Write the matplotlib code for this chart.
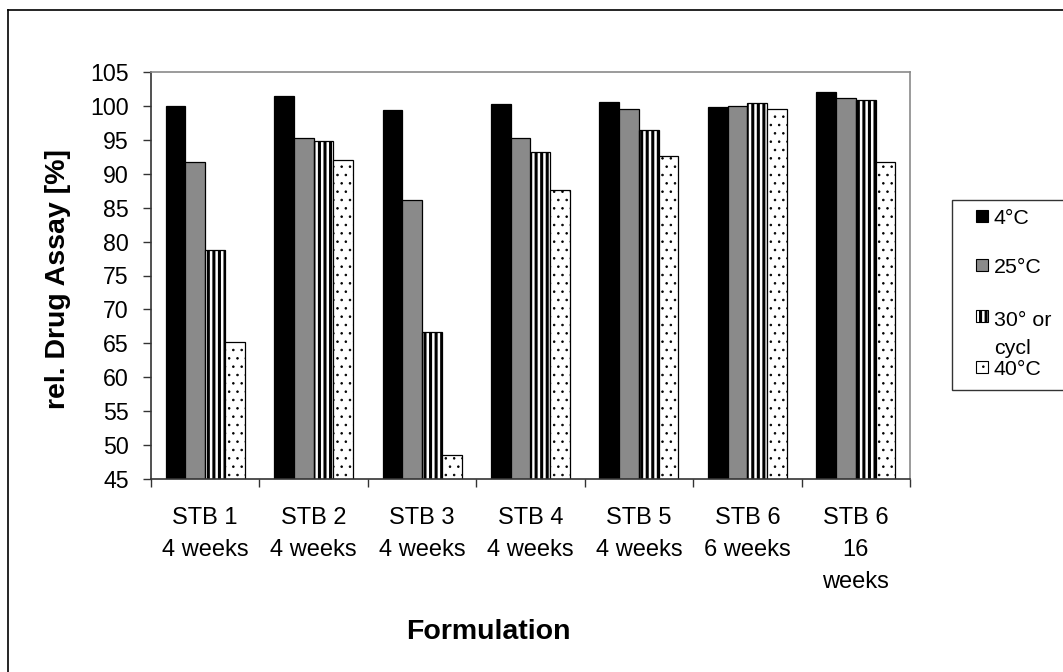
import matplotlib
matplotlib.use("Agg")
import matplotlib.pyplot as plt
from matplotlib.patches import Rectangle
from matplotlib.lines import Line2D
import numpy as np

# ---- data -------------------------------------------------------------
categories = ["STB 1\n4 weeks", "STB 2\n4 weeks", "STB 3\n4 weeks", "STB 4\n4 weeks",
              "STB 5\n4 weeks", "STB 6\n6 weeks", "STB 6\n16\nweeks"]
series_names = ["4°C", "25°C", "30° or\ncycl", "40°C"]
assay_4c = [100.0, 101.5, 99.4, 100.3, 100.6, 99.9, 102.0]
assay_25c = [91.7, 95.2, 86.1, 95.2, 99.6, 100.0, 101.1]
assay_30c = [78.7, 94.9, 66.6, 93.2, 96.4, 100.5, 100.8]
assay_40c = [65.2, 92.0, 48.6, 87.6, 92.6, 99.6, 91.7]
y_ticks = [45, 50, 55, 60, 65, 70, 75, 80, 85, 90, 95, 100, 105]

# ---- styling ----------------------------------------------------------
plt.rcParams["font.family"] = ["Liberation Sans", "DejaVu Sans"]
W, H = 1063, 672
styles = [
    dict(facecolor="black", hatch=None, hlw=1.0),
    dict(facecolor="#8a8a8a", hatch=None, hlw=1.0),
    dict(facecolor="white", hatch="|||", hlw=2.2),
    dict(facecolor="white", hatch="..", hlw=0.6),
]


def px(x, y):
    """Figure pixel position (origin top-left) -> figure fraction."""
    return x / W, 1 - y / H


def set_hlw(patch, lw):
    try:
        patch.set_hatch_linewidth(lw)
    except AttributeError:
        pass


fig = plt.figure(figsize=(W / 100, H / 100), dpi=100)
left, top, right, bottom = 151, 72, 910, 479
ax = fig.add_axes([left / W, 1 - bottom / H, (right - left) / W, (bottom - top) / H])

series = [assay_4c, assay_25c, assay_30c, assay_40c]
x = np.arange(len(categories))
bw = 0.182
for i, (vals, st) in enumerate(zip(series, styles)):
    with plt.rc_context({"hatch.linewidth": st["hlw"]}):
        bars = ax.bar(x + (i - 1.5) * bw, vals, width=bw, facecolor=st["facecolor"],
                      edgecolor="black", linewidth=0.9, hatch=st["hatch"])
    for b in bars:
        set_hlw(b, st["hlw"])

ax.set_ylim(45, 105)
ax.set_xlim(-0.5, len(categories) - 0.5)
ax.set_yticks(y_ticks)
ax.set_yticklabels([str(v) for v in y_ticks], fontsize=16.7)
ax.set_xticks(x)
ax.set_xticklabels(categories, fontsize=17, linespacing=1.6)
ax.set_xticks(np.arange(len(categories) + 1) - 0.5, minor=True)
ax.tick_params(axis="x", which="major", length=0, pad=20)
ax.tick_params(axis="x", which="minor", length=6, width=1.0, color="#333333", direction="out")
ax.tick_params(axis="y", which="major", length=6, width=1.0, color="#333333", pad=10,
               direction="out")

for side in ("top", "right"):
    ax.spines[side].set_color("#8a8a8a")
    ax.spines[side].set_linewidth(1.2)
for side in ("left", "bottom"):
    ax.spines[side].set_color("#333333")
    ax.spines[side].set_linewidth(1.2)

# axis titles
fig.text(*px(488, 632), "Formulation", fontsize=20.5, fontweight="bold",
         ha="center", va="center")
fig.text(*px(58, 279), "rel. Drug Assay [%]", fontsize=20.5, fontweight="bold",
         ha="center", va="center", rotation=90)

# legend box
lx0, ly0, lx1, ly1 = 952, 200, 1075, 390
fig.add_artist(Rectangle(px(lx0, ly1), (lx1 - lx0) / W, (ly1 - ly0) / H,
                         transform=fig.transFigure, facecolor="white",
                         edgecolor="#333333", linewidth=1.0))
entry_y = [216, 265, 316, 367]
line_step = 30
for name, st, cy in zip(series_names, styles, entry_y):
    sq = 12
    with plt.rc_context({"hatch.linewidth": st["hlw"]}):
        key = Rectangle(px(976, cy + sq / 2), sq / W, sq / H, transform=fig.transFigure,
                        facecolor=st["facecolor"], edgecolor="black", linewidth=0.8,
                        hatch=st["hatch"])
    set_hlw(key, st["hlw"])
    fig.add_artist(key)
    # baseline anchor sits on the last line of a multi-line label
    n_extra = name.count("\n")
    fig.text(*px(994, cy + 7.7 + n_extra * line_step), name, fontsize=15.4,
             ha="left", va="baseline", linespacing=1.6)

# chart frame
fig.add_artist(Line2D([8 / W, 1], [1 - 10 / H] * 2, transform=fig.transFigure,
                      color="black", linewidth=1.2))
fig.add_artist(Line2D([8 / W] * 2, [0, 1 - 10 / H], transform=fig.transFigure,
                      color="black", linewidth=1.2))

fig.savefig("out.png", dpi=100, facecolor="white")
